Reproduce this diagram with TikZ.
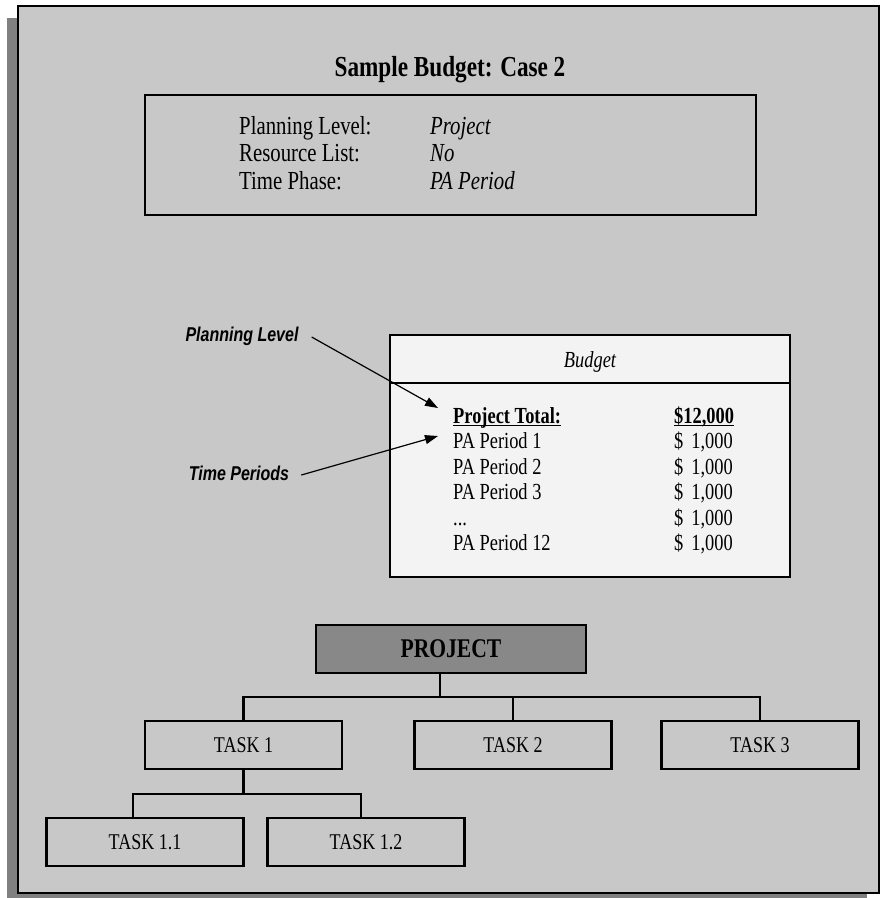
\documentclass[tikz,border=0pt]{standalone}
\usepackage{fontspec}
\setmainfont[FakeStretch=0.8]{Liberation Serif}
\newfontfamily\lblfont[FakeStretch=0.8]{Liberation Sans}
\usetikzlibrary{arrows.meta,calc}
\definecolor{bg}{RGB}{200,200,200}
\definecolor{shadowc}{RGB}{128,128,128}
\definecolor{panel}{RGB}{243,243,243}
\definecolor{projc}{RGB}{136,136,136}
\newcommand{\myul}[1]{\setbox0\hbox{#1}\rlap{\rule[-2.5pt]{\wd0}{1pt}}\box0}
\tikzset{
  boxc/.style={draw=black, line width=2.2pt, rectangle, inner sep=0pt},
  taskbox/.style={boxc, minimum width=197pt, minimum height=48pt, font=\fontsize{22.5}{26}\selectfont},
  toptxt/.style={anchor=west, inner sep=0pt, text height=21pt, text depth=4pt, font=\fontsize{26}{30}\selectfont},
  topval/.style={toptxt, font=\itshape\fontsize{26}{30}\selectfont},
  budtxt/.style={anchor=west, inner sep=0pt, text height=18pt, text depth=3pt, font=\fontsize{23}{26}\selectfont},
  budbold/.style={budtxt, font=\bfseries\fontsize{23}{26}\selectfont},
  lbl/.style={inner sep=0pt, font=\lblfont\bfseries\itshape\fontsize{20}{24}\selectfont},
  arr/.style={line width=1.2pt, -{Triangle[length=13pt,width=9pt]}},
  conn/.style={line width=2.2pt}
}
\begin{document}
\begin{tikzpicture}[x=1pt,y=-1pt]
\useasboundingbox (0,0) rectangle (886,898);
% shadow and frame
\fill[shadowc] (7,18) rectangle (867,898);
\draw[fill=bg, line width=2.6pt] (18,6) rectangle (879,893);
% title
\node[inner sep=0pt, font=\bfseries\fontsize{29}{33}\selectfont] (title) at (450,70) {Sample Budget: Case 2};
% top box
\node[boxc, minimum width=611pt, minimum height=120pt] (topbox) at (450.5,155) {};
\node[toptxt] (l1) at (239,126) {Planning Level:};
\node[toptxt] (l2) at (239,153) {Resource List:};
\node[toptxt] (l3) at (239,181) {Time Phase:};
\node[topval] (v1) at (430,126) {Project};
\node[topval] (v2) at (430,153) {No};
\node[topval] (v3) at (430,181) {PA Period};
% budget box
\node[boxc, fill=panel, minimum width=400pt, minimum height=242pt] (bud) at (590,456) {};
\draw[line width=2.2pt] (bud.west |- 0,383) -- (bud.east |- 0,383);
\node[inner sep=0pt, font=\itshape\fontsize{23}{26}\selectfont] (budt) at (590,362) {Budget};
\node[budbold] (r0) at (453,416) {\myul{Project Total:}};
\node[budbold] (a0) at (674,416) {\myul{\$12,000}};
\node[budtxt] (r1) at (453,441) {PA Period 1};
\node[budtxt] (r2) at (453,467) {PA Period 2};
\node[budtxt] (r3) at (453,492) {PA Period 3};
\node[budtxt] (r4) at (453,518) {...};
\node[budtxt] (r5) at (453,543) {PA Period 12};
\node[budtxt] (a1) at (674,441) {\$\hspace{8pt}1,000};
\node[budtxt] (a2) at (674,467) {\$\hspace{8pt}1,000};
\node[budtxt] (a3) at (674,492) {\$\hspace{8pt}1,000};
\node[budtxt] (a4) at (674,518) {\$\hspace{8pt}1,000};
\node[budtxt] (a5) at (674,543) {\$\hspace{8pt}1,000};
% labels with arrows
\node[lbl] (pl) at (242,336) {Planning Level};
\node[lbl] (tp) at (239,473) {Time Periods};
\coordinate (plt) at (438,408);
\coordinate (tpt) at (438,436);
\draw[arr] ([xshift=13pt,yshift=-1pt]pl.east) -- (plt);
\draw[arr] ([xshift=12pt,yshift=-2pt]tp.east) -- (tpt);
% tree
\node[boxc, fill=projc, minimum width=270pt, minimum height=48pt, font=\bfseries\fontsize{27}{30}\selectfont] (proj) at (451,649) {PROJECT};
\node[taskbox] (t1) at (243.5,745) {TASK 1};
\node[taskbox] (t2) at (513,745) {TASK 2};
\node[taskbox] (t3) at (760,745) {TASK 3};
\node[taskbox] (t11) at (145,842) {TASK 1.1};
\node[taskbox] (t12) at (366,842) {TASK 1.2};
\coordinate (hub) at (440,697);
\coordinate (hubA) at (133,794);
\coordinate (hubB) at (361,794);
\draw[conn] (proj.south -| hub) -- (hub);
\draw[conn] (t1.north) -- (t1.north |- hub) -- (t3.north |- hub) -- (t3.north);
\draw[conn] (t2.north) -- (t2.north |- hub);
\draw[conn] (t1.south) -- (t1.south |- hubA);
\draw[conn] (t11.north -| hubA) -- (hubA) -- (hubB) -- (t12.north -| hubB);
\end{tikzpicture}
\end{document}
